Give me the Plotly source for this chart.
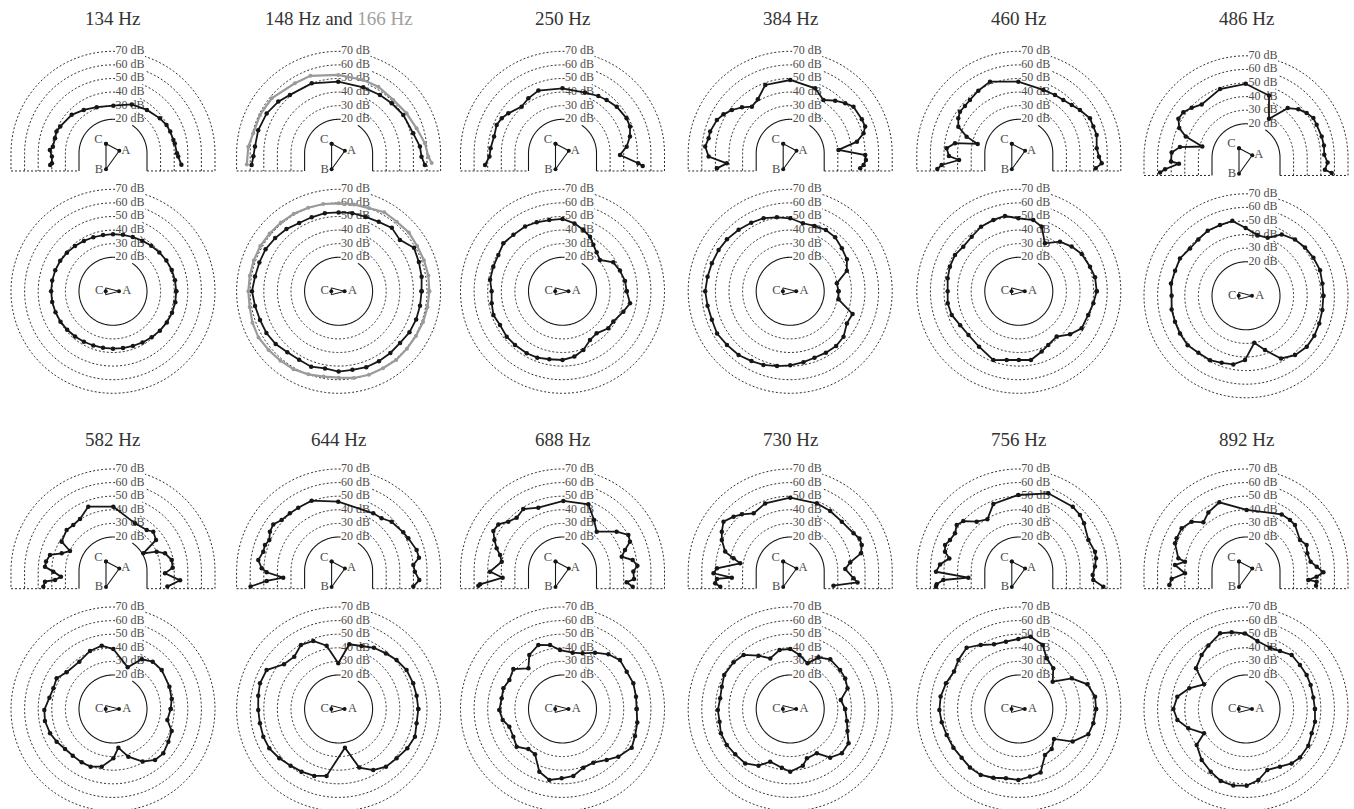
import math
import numpy as np
import plotly.graph_objects as go

# ---------------------------------------------------------------------------
# Measured sound pressure level (dB) against direction (degrees).
# "vert" = vertical half plane above the floor line, "horiz" = horizontal plane.
# ---------------------------------------------------------------------------
hz134_vert_theta = [-9.6, -2.9, 0, 9, 12.5, 20.8, 27.8, 36.7, 52, 69, 89.6, 109.5, 124, 137, 153, 159, 165.5, 173.7, 177, 183, 189.3, 190.5]
hz134_vert_db = [46, 43, 42, 41, 40.5, 40, 39.5, 38, 35.5, 33.5, 30, 31, 33.5, 36.5, 38.5, 39.5, 39, 39.5, 41.5, 40, 40.5, 42]
hz134_horiz_theta = [0, 10, 20, 30, 40, 50, 60, 70, 80, 90, 100, 110, 120, 130, 140, 150, 160, 170, 180, 190, 200, 210, 220, 230, 240, 250, 260, 270, 280, 290, 300, 310, 320, 330, 340, 350]
hz134_horiz_db = [41.5, 41.3, 41, 40.3, 39.5, 38.7, 38, 37.5, 37.2, 37, 37, 37.3, 37.8, 38.5, 39.2, 39.8, 40.2, 40.4, 40.5, 40.4, 40, 39.6, 39, 38.4, 37.8, 37.4, 37.2, 37.2, 37.4, 37.8, 38.4, 39.2, 40, 40.7, 41.2, 41.5]

hz148_vert_theta = [-7.7, -2.3, 4.7, 15, 30.7, 43.3, 54.7, 69.5, 90.3, 111, 129.8, 139.4, 151, 164, 175.4, 182, 187.6]
hz148_vert_db = [59, 56, 55, 51.8, 50.3, 48.6, 47.6, 46.8, 47.7, 50.1, 50.9, 53.4, 55.5, 56.5, 56.7, 57.7, 59.5]
hz148_horiz_theta = [0, 10, 20, 30, 40, 50, 60, 70, 80, 90, 100, 110, 120, 130, 140, 150, 160, 170, 180, 190, 200, 210, 220, 230, 240, 250, 260, 270, 280, 290, 300, 310, 320, 330, 340, 350]
hz148_horiz_db = [56, 57, 57.8, 59, 53.8, 55.9, 54, 53.2, 53.3, 53, 53.3, 52.9, 53, 54.7, 55.9, 57, 57, 57.4, 58.7, 57.4, 56.5, 56.3, 55.4, 53.6, 53.1, 54, 52.6, 54, 53.6, 54.4, 54.3, 54.2, 54, 55.2, 55.7, 55.8]

hz166_vert_theta = [-6, -2, 6.6, 17.8, 30.5, 44.3, 59.2, 71.4, 90.2, 110, 122, 140.6, 154, 166.8, 175.8, 187]
hz166_vert_db = [63.8, 61, 58.9, 55.2, 53, 51.2, 52, 51.9, 52.6, 55.6, 55.7, 58.7, 59.3, 59.5, 61.6, 63]
hz166_horiz_theta = [0, 10, 20, 30, 40, 50, 60, 70, 80, 90, 100, 110, 120, 130, 140, 150, 160, 170, 180, 190, 200, 210, 220, 230, 240, 250, 260, 270, 280, 290, 300, 310, 320, 330, 340, 350]
hz166_horiz_db = [61.7, 62, 61.8, 61.7, 62.4, 61.7, 62.2, 60.1, 59.9, 59.7, 60.2, 60.4, 60.9, 61, 61.2, 61.5, 61.4, 61.3, 61.4, 61.4, 62.4, 63, 62.2, 61.6, 61.2, 60, 58.7, 58.5, 59.7, 60.3, 60.3, 60.9, 60.6, 60.7, 61.1, 61.4]

hz250_vert_theta = [-9, -7.5, -1.7, 5.9, 13.9, 21.6, 28.6, 40.7, 50.4, 58, 69.7, 90, 111, 121.8, 131.2, 143.6, 150, 156.7, 166.3, 176, 182.6, 188.6]
hz250_vert_db = [54.7, 51.2, 37.3, 42.4, 46.1, 48.4, 48.7, 47.6, 45.9, 44.7, 42.6, 42.8, 44.4, 42.6, 40.6, 44.5, 46.6, 47.7, 46.8, 48, 48.8, 52.6]
hz250_horiz_theta = [0, 9.4, 19.8, 29.7, 39.9, 48.8, 56.4, 63.3, 71.2, 80, 90, 100.5, 110.5, 120, 131, 141, 150.5, 160.4, 171, 180, 189.6, 199, 208.3, 219.1, 228.5, 240, 249.2, 259, 270, 280.3, 289.6, 299.5, 309.1, 321, 329.2, 341.5, 350]
hz250_horiz_db = [42.2, 41.6, 39.9, 38, 30.9, 33.1, 36, 40, 42.6, 45.7, 48.2, 48.3, 49.2, 50, 50, 51, 49.2, 49, 48.9, 47.1, 47.8, 48.7, 47.2, 47.9, 47.7, 47.6, 47.2, 45.9, 45.5, 43.8, 40.8, 36.1, 34.8, 38.3, 38.5, 42.2, 45.4]

hz384_vert_theta = [-12, -9, -5, -1.3, 4, 9.9, 15.3, 19.6, 25.4, 36.4, 42.3, 49.5, 58, 69, 90, 110, 120.9, 129.4, 136.4, 143.4, 149.7, 155.6, 164.8, 169.6, 175.5, 182.3, 189, 191.6]
hz384_vert_db = [47.6, 49.6, 50.9, 50.2, 30.6, 44.8, 50.9, 53.5, 53.3, 52.8, 49.7, 45.9, 41.2, 46.2, 48.9, 48.5, 41.3, 39.4, 44, 48.4, 51.8, 54.2, 56, 56, 57.7, 55, 42.2, 50]
hz384_horiz_theta = [0, 9.7, 20, 29.5, 39.8, 50.2, 59.8, 69.6, 79.4, 90, 100.2, 110, 119.6, 130, 140.6, 150, 160.3, 170, 180, 190, 200, 210, 220.3, 231, 241, 250, 260, 270, 280.6, 290.1, 300.2, 310, 319.6, 330.5, 340, 350.6]
hz384_horiz_db = [30.5, 29.8, 39.3, 42.9, 44.4, 46.7, 47.2, 46.3, 45.9, 48.7, 50.3, 52.2, 53, 54, 55.2, 55.8, 56.2, 56.7, 57.5, 56.7, 56.3, 57.1, 56, 55.3, 53.7, 52.6, 50.8, 49.4, 48, 47, 47.2, 47.5, 46.5, 42.9, 43.8, 31]

hz460_vert_theta = [-11, -6.9, -2.4, 3.7, 13.2, 19.7, 26.2, 35.3, 42.4, 50.1, 58.2, 68.8, 90.4, 111.9, 122.9, 132.5, 138.7, 144.7, 150, 156.2, 162.3, 167.2, 171, 176, 182.2, 186.4, 188.6, 190.9]
hz460_vert_db = [52.6, 56.4, 54, 52.4, 53.8, 53.2, 53.3, 50.1, 47.7, 46, 45.5, 45, 47.7, 51.8, 49.8, 48.2, 47.7, 48, 46.4, 43.6, 35.3, 26, 42.5, 48.2, 46.4, 39.2, 52.4, 56]
hz460_horiz_theta = [0, 10.4, 19.1, 30.7, 40.2, 50.3, 61.4, 70.5, 78.5, 90.4, 100.4, 109.6, 120.3, 130.8, 141.2, 150.3, 160.3, 169.6, 180, 189.6, 199.4, 210, 221, 234.3, 249.7, 260, 270, 280, 290.8, 298.8, 309.9, 320, 329.5, 341.2, 350.9]
hz460_horiz_db = [52.3, 52, 50.4, 48.8, 45.9, 42.4, 35.2, 45.4, 48.5, 48.7, 51.3, 50.7, 50, 48, 47.4, 49, 48.8, 48.2, 47.3, 48, 47.3, 44.8, 44, 45.1, 48.9, 46.3, 45.5, 46.3, 42.4, 40, 38.4, 44.2, 48.6, 48.9, 50.5]

hz486_vert_theta = [-10.1, -8.6, -3.3, 2.2, 9, 15.7, 25, 30.5, 36.4, 42.9, 50, 59.5, 69.7, 90.3, 110.7, 129.7, 137.4, 143.9, 150, 156, 160.5, 165.5, 170.8, 175.9, 182.8, 185, 188, 189.7]
hz486_vert_db = [59, 53.7, 55.1, 52.6, 53, 52.8, 52.3, 52.5, 50.4, 47.5, 42.7, 28.3, 43.8, 49.4, 49, 46, 49.3, 52, 52.4, 48.7, 42, 28.2, 44.2, 49.8, 50.2, 44.5, 55.1, 59.1]
hz486_horiz_theta = [0, 9.2, 19.1, 29.4, 39.3, 49, 59.8, 69.5, 79.4, 90.3, 100.3, 110.2, 120.5, 130.2, 139.8, 150.5, 160.6, 170.7, 180, 190.4, 200.1, 209.7, 220.2, 230.1, 240.8, 250, 259.5, 269.1, 280, 289.3, 299.2, 309.6, 320, 329.7, 339.3, 349.4]
hz486_horiz_db = [51.9, 51.9, 52.6, 51.9, 51.1, 49.9, 47.2, 40.5, 40.4, 44.8, 51, 50.4, 50.5, 49.3, 48.9, 50.8, 50.3, 50.9, 49.7, 50.6, 50.6, 50.9, 51.2, 49.6, 49.2, 47.4, 46.3, 42.3, 30.1, 37.3, 47.8, 51.6, 53.3, 53.2, 52.6, 52.1]

hz582_vert_theta = [-16, -7.9, -2.6, 3.2, 10.6, 18.8, 23.9, 30.2, 35.8, 44.3, 50.6, 65.2, 89.7, 111, 122.4, 130.8, 138.5, 150.3, 155, 161, 165.7, 172, 176.4, 180.6, 186.2, 188.8, 188.9, 192.7]
hz582_vert_db = [36.6, 44.8, 33.3, 38.9, 38.9, 35.4, 30.1, 20.8, 34, 36.4, 34, 33.6, 42.3, 45.7, 40.3, 39.7, 40.5, 38.5, 29.9, 34.9, 42.8, 44.7, 45.1, 38.9, 33.5, 38.1, 45.6, 47.5]
hz582_horiz_theta = [0, 9.7, 21.6, 38.7, 50, 60, 70.6, 89.7, 100.1, 111.6, 125.4, 141.6, 151.4, 160.9, 169.9, 180.8, 190, 201.1, 210.1, 219.8, 229.2, 239.6, 248.8, 259, 270.4, 277.9, 287.8, 299.4, 309.5, 318.6, 329.4, 339.4, 348.6]
hz582_horiz_db = [37.4, 38.8, 39.6, 40.9, 40.4, 37.2, 27.5, 39.1, 42.3, 40.9, 37.7, 38.5, 42.2, 41.4, 42.5, 45.5, 45.8, 44.6, 42.9, 40.9, 40.3, 40.5, 40.5, 38.2, 31.3, 23.7, 31.8, 39.4, 43.6, 44.3, 42.3, 41.1, 35.8]

hz644_vert_theta = [-11.8, -6.4, -0.5, 4.6, 9.4, 15, 25.1, 30.9, 42.9, 50.8, 59, 90.3, 111, 122.5, 130.2, 138.2, 144.5, 150.2, 155.9, 160.6, 165.6, 172.2, 178, 181, 186.9, 187.9, 190]
hz644_vert_db = [51.1, 54.7, 51.1, 50.1, 54.9, 54.4, 51.6, 50.4, 48.2, 45, 44.5, 46, 50.4, 50.2, 50.5, 51.2, 54, 53.2, 50.8, 52.4, 52.2, 54.6, 51.6, 47.9, 36, 48.4, 60.7]
hz644_horiz_theta = [0, 9.7, 19, 29.8, 40.2, 49.6, 60, 70, 80.6, 90.4, 100.7, 110.4, 120.5, 130.3, 140.7, 151.6, 161.9, 170.6, 180.7, 190.3, 200.2, 209.6, 219.7, 229.7, 239.4, 250, 259.8, 279.3, 289.4, 299.6, 309.4, 319.6, 330.2, 340.1, 349.6]
hz644_horiz_db = [53.6, 53.2, 53, 52.6, 50.8, 48.7, 47, 44.3, 43.2, 28.6, 42.4, 48.4, 49.6, 45.4, 46.9, 55.2, 55.8, 54.9, 54.1, 53.8, 54, 53.6, 51.7, 49.6, 48.5, 47.4, 45, 23.8, 40.7, 46.6, 49.9, 51, 53.2, 54.7, 53.3]

hz688_vert_theta = [-12.6, -10, -6.4, -0.5, 4.1, 8.9, 13.6, 18.6, 23.5, 28.7, 36, 49, 58.3, 68.8, 89.3, 110.9, 122.3, 130.7, 137.7, 144, 150, 155.5, 161, 165.6, 171.3, 180.5, 186.4, 189.2, 189.9]
hz688_vert_db = [47.9, 42.9, 47.9, 47.1, 50.2, 47.2, 39.8, 43.5, 49.1, 50.2, 44.2, 33.3, 39.1, 47.6, 46.5, 44.8, 48.9, 46.7, 48.9, 53.3, 53.7, 50, 46.2, 42.4, 40.2, 48.3, 39.3, 56.4, 57.8]
hz688_horiz_theta = [0, 9.5, 19.9, 30.2, 40.4, 50, 60, 70.1, 79.8, 92.4, 101, 110.7, 121.6, 130, 140.9, 151.4, 160.7, 170, 181, 190.4, 198.4, 209.4, 219.4, 229.5, 238.8, 249.7, 259.5, 269.3, 279.2, 289.6, 299.9, 310.9, 319.5, 330.8, 339.6, 349.7]
hz688_horiz_db = [49.5, 49.8, 50.4, 49.6, 50.5, 47.5, 42.8, 38.5, 37.1, 38.4, 42.9, 45.3, 41.6, 34, 41.6, 39.5, 41.1, 40.4, 41.5, 39.7, 36.2, 36.5, 38.6, 33.7, 34, 44.1, 48.1, 46, 44.9, 40.8, 40.5, 44.6, 49, 53.3, 51.9, 50.9]

hz730_vert_theta = [-18.7, -9.6, -6.6, 2.1, 8.2, 14, 20, 25.2, 30.7, 43.7, 56.3, 68.5, 90, 110.3, 122.4, 130.5, 136.2, 143.5, 150.1, 155.6, 163.4, 167.4, 171.3, 177.9, 181.7, 186.5, 186.2, 189.3, 192.6]
hz730_vert_db = [28.6, 45.2, 41.9, 35.5, 39.6, 48.6, 51, 51.3, 49.2, 47.5, 48, 48.5, 48.9, 48, 45.2, 49.8, 52.7, 56, 53, 50.2, 44.9, 37.7, 32.2, 48.9, 51.4, 38.2, 49.2, 50.9, 47.7]
hz730_horiz_theta = [0, 10.1, 19.8, 29.1, 38, 51.1, 61.3, 69.2, 80.2, 90, 100.2, 111.5, 120.7, 130.8, 140.5, 152.7, 161.9, 171.3, 180.8, 190.2, 199.3, 209.6, 219.5, 230.4, 240.8, 249.2, 261.9, 270, 282.6, 288.7, 301, 309.4, 319.4, 329.5, 339, 348]
hz730_horiz_db = [35.4, 32.8, 39.8, 41.3, 41.6, 41.9, 38.3, 30.9, 35.3, 39.1, 39.1, 35, 40.6, 47.5, 49, 49.6, 47.9, 47.1, 48.2, 47.8, 49, 48.6, 47.4, 46.9, 42.7, 36.4, 38.6, 41.1, 37.7, 33.3, 33, 41.3, 45, 44.8, 40.1, 37.6]

hz756_vert_theta = [-10.5, -6.9, -3.1, 3.3, 9.3, 14.2, 24, 36.2, 42.5, 50, 69.2, 90.4, 110.8, 121.3, 130.5, 138, 143.5, 149.4, 155.7, 160.6, 165.3, 169.7, 175.2, 180.5, 187.5, 186.8, 189.2, 190.7]
hz756_vert_db = [58.2, 50.2, 49.4, 51.1, 52.5, 52.8, 51, 54.4, 56, 56.7, 56.1, 50.9, 47.7, 39.5, 42.7, 49.9, 51.8, 49.5, 50.5, 52.5, 51.1, 46.9, 53.1, 55.9, 32.4, 50.9, 56.2, 57]
hz756_horiz_theta = [0, 9.2, 19.8, 30.1, 38.9, 49.7, 61.2, 69.5, 80.7, 90.4, 100.8, 111, 120.8, 130.4, 140.9, 150, 160.6, 171, 180.7, 189.8, 199.8, 210.6, 220.4, 230.2, 240, 249.7, 259.5, 269.6, 279.4, 289, 299.7, 309.4, 319.6, 328.8, 340, 349.1]
hz756_horiz_db = [51.8, 51.8, 48.6, 40, 27, 34.2, 37.5, 45.2, 48.9, 46.5, 45.4, 45.9, 49.8, 54.2, 52.2, 50, 51.8, 53.2, 53.4, 52.5, 51.4, 50.9, 50.2, 51.1, 51, 48.9, 46.8, 47.2, 45.4, 44.3, 33.9, 33.1, 29, 41.3, 49.4, 50.8]

hz892_vert_theta = [-11.8, -8.6, -8.2, -4.6, -1, 3.5, 8.2, 16.1, 23.2, 29.9, 43.2, 49.2, 57.8, 89.4, 111.2, 122.7, 131.2, 137.8, 146.4, 154.8, 158.7, 169.4, 171.3, 175.2, 182.2, 186.1, 190.3]
hz892_vert_db = [47.6, 47.5, 41.3, 47.1, 51.9, 47.1, 43, 41.9, 43.5, 40.8, 44.4, 44.5, 44.2, 39.9, 49.2, 46.2, 42.6, 49, 51.8, 51.4, 51, 45.6, 40.4, 47.4, 39.9, 50, 52.3]
hz892_horiz_theta = [0, 9.6, 20.4, 29.3, 39.2, 49.8, 59.6, 68.6, 80.5, 90.8, 100.6, 108.9, 120.7, 129.4, 140.9, 149.6, 160, 169.8, 180, 189.1, 198.5, 210.1, 216.1, 229, 240.6, 250.6, 260.6, 270.5, 279.9, 289.3, 300.5, 310, 318, 329.5, 339.7, 349.6]
hz892_horiz_db = [45.7, 45.2, 45.7, 46.1, 46.2, 47, 44.4, 43.4, 45.7, 50.6, 52.4, 53.8, 49.2, 46.4, 42.4, 30.8, 39.4, 46.3, 48.4, 46.1, 39.7, 30.7, 39.9, 44.7, 47.9, 51.1, 52.1, 51.4, 48, 42.5, 44.2, 47.2, 48.4, 48.2, 46.5, 46.6]

ring_levels_db = [20, 30, 40, 50, 60, 70]

# ---------------------------------------------------------------------------
# Page geometry (pixels) and styling
# ---------------------------------------------------------------------------
W, H = 1354, 820
R_MIN, R_MAX = -5.0, 73.0          # radial axis range shared by every subplot
PX = 1.36                          # pixels per radial unit
POLAR_R = (R_MAX - R_MIN) * PX     # radius of each polar subplot in pixels
BASE_DROP = 13.0                   # floor line sits this far below the pole (radial units)
COL_X = [113.0, 338.6, 562.5, 790.2, 1018.8, 1246.0]
GROUPS = [dict(title_y=18.0, vert_y=153.3, horiz_y=291.3),
          dict(title_y=439.0, vert_y=571.0, horiz_y=709.0)]
INK = "#161616"
GREY = "#9a9a9a"
RING_INK = "#2a2a2a"
LABEL_INK = "#4d4d4d"
SERIF = "Liberation Serif"

BLACK, LIGHT = "black", "grey"
PANELS = [
    ("134 Hz", [(hz134_vert_theta, hz134_vert_db, BLACK)], [(hz134_horiz_theta, hz134_horiz_db, BLACK)]),
    ("148 Hz and <span style='color:#a0a0a0'>166 Hz</span>",
     [(hz166_vert_theta, hz166_vert_db, LIGHT), (hz148_vert_theta, hz148_vert_db, BLACK)],
     [(hz166_horiz_theta, hz166_horiz_db, LIGHT), (hz148_horiz_theta, hz148_horiz_db, BLACK)]),
    ("250 Hz", [(hz250_vert_theta, hz250_vert_db, BLACK)], [(hz250_horiz_theta, hz250_horiz_db, BLACK)]),
    ("384 Hz", [(hz384_vert_theta, hz384_vert_db, BLACK)], [(hz384_horiz_theta, hz384_horiz_db, BLACK)]),
    ("460 Hz", [(hz460_vert_theta, hz460_vert_db, BLACK)], [(hz460_horiz_theta, hz460_horiz_db, BLACK)]),
    ("486 Hz", [(hz486_vert_theta, hz486_vert_db, BLACK)], [(hz486_horiz_theta, hz486_horiz_db, BLACK)]),
    ("582 Hz", [(hz582_vert_theta, hz582_vert_db, BLACK)], [(hz582_horiz_theta, hz582_horiz_db, BLACK)]),
    ("644 Hz", [(hz644_vert_theta, hz644_vert_db, BLACK)], [(hz644_horiz_theta, hz644_horiz_db, BLACK)]),
    ("688 Hz", [(hz688_vert_theta, hz688_vert_db, BLACK)], [(hz688_horiz_theta, hz688_horiz_db, BLACK)]),
    ("730 Hz", [(hz730_vert_theta, hz730_vert_db, BLACK)], [(hz730_horiz_theta, hz730_horiz_db, BLACK)]),
    ("756 Hz", [(hz756_vert_theta, hz756_vert_db, BLACK)], [(hz756_horiz_theta, hz756_horiz_db, BLACK)]),
    ("892 Hz", [(hz892_vert_theta, hz892_vert_db, BLACK)], [(hz892_horiz_theta, hz892_horiz_db, BLACK)]),
]


def to_polar(x_px, y_px):
    """Pixel offset from the pole -> (r, theta) on the shared radial scale."""
    rho = math.hypot(x_px, y_px) / PX
    return rho + R_MIN, math.degrees(math.atan2(y_px, x_px))


def label_gap(db):
    """Angular span of a ring hidden behind its '.. dB' label."""
    rho = (db - R_MIN) * PX
    x0, x1, half = 2.0, 32.0, 6.0
    lo = max(math.degrees(math.acos(min(1.0, x1 / rho))),
             math.degrees(math.asin(max(0.0, (rho - half) / rho))))
    hi = math.degrees(math.acos(x0 / rho))
    return lo, hi


def ring_style(db):
    if db == 20:
        return dict(color=INK, width=1.1)
    return dict(color=RING_INK, width=1.0, dash="2px,2px")


fig = go.Figure()
layout_polars = {}
annotations = []
subplot_id = 0


def new_subplot(cx, cy):
    global subplot_id
    subplot_id += 1
    name = "polar" if subplot_id == 1 else f"polar{subplot_id}"
    layout_polars[name] = dict(
        domain=dict(x=[(cx - POLAR_R) / W, (cx + POLAR_R) / W],
                    y=[1 - (cy + POLAR_R) / H, 1 - (cy - POLAR_R) / H]),
        bgcolor="rgba(0,0,0,0)",
        radialaxis=dict(range=[R_MIN, R_MAX], visible=False),
        angularaxis=dict(visible=False),
    )
    return name


def add_line(sub, r, th, line, mode="lines"):
    fig.add_trace(go.Scatterpolar(r=r, theta=th, mode=mode, line=line,
                                  subplot=sub, hoverinfo="skip", showlegend=False))


def add_text(sub, pts_px, texts, size=12, color=LABEL_INK):
    rr, tt = zip(*[to_polar(x, y) for x, y in pts_px])
    fig.add_trace(go.Scatterpolar(r=list(rr), theta=list(tt), mode="text", text=texts,
                                  textfont=dict(family=SERIF, size=size, color=color),
                                  cliponaxis=False, subplot=sub,
                                  hoverinfo="skip", showlegend=False))


def add_ring_labels(sub):
    pts = [(17.0, (db - R_MIN) * PX) for db in ring_levels_db]
    add_text(sub, pts, [f"{db} dB" for db in ring_levels_db])


def draw_vertical_frame(sub):
    drop_px = BASE_DROP * PX
    for db in ring_levels_db:
        rho_px = (db - R_MIN) * PX
        lo, hi = label_gap(db)
        r0, t0 = to_polar(rho_px, -drop_px)
        r1, t1 = to_polar(-rho_px, -drop_px)
        a1 = np.linspace(0, lo, 60)
        a2 = np.linspace(hi, 180, 90)
        r = [r0] + [db] * len(a1) + [None] + [db] * len(a2) + [r1]
        th = [t0] + list(a1) + [None] + list(a2) + [t1]
        add_line(sub, r, th, ring_style(db))
    # floor line either side of the head outline
    inner = (ring_levels_db[0] - R_MIN) * PX
    outer = (ring_levels_db[-1] - R_MIN) * PX
    pts = [(-outer, -drop_px), (-inner, -drop_px), None, (inner, -drop_px), (outer, -drop_px)]
    r, th = [], []
    for p in pts:
        if p is None:
            r.append(None); th.append(None)
        else:
            a, b = to_polar(*p)
            r.append(a); th.append(b)
    add_line(sub, r, th, dict(color=RING_INK, width=1.0, dash="2px,2px"))
    add_ring_labels(sub)
    # source / receiver triangle seen from the side
    icon = [(-7.0, 9.5), (6.3, 2.5), (-7.0, -16.0), (-7.0, 9.5)]
    rr, tt = zip(*[to_polar(x, y) for x, y in icon])
    fig.add_trace(go.Scatterpolar(r=list(rr), theta=list(tt), mode="lines+markers",
                                  line=dict(color=INK, width=1.1),
                                  marker=dict(color=INK, size=4),
                                  subplot=sub, hoverinfo="skip", showlegend=False))
    add_text(sub, [(-14.5, 13.5), (12.8, 2.8), (-14.0, -16.3)], ["C", "A", "B"], size=12.5)


def draw_horizontal_frame(sub):
    for db in ring_levels_db:
        lo, hi = label_gap(db)
        th = np.linspace(hi, lo + 360, 360)
        add_line(sub, [db] * len(th), list(th), ring_style(db))
    add_ring_labels(sub)
    # the same triangle seen from above
    outline = [(-7.3, 3.4), (6.0, 0.0), (-7.3, -3.4), (-7.3, 3.4)]
    rr, tt = zip(*[to_polar(x, y) for x, y in outline])
    add_line(sub, list(rr), list(tt), dict(color=INK, width=1.0))
    dots = [(-7.3, 0.0), (6.0, 0.0)]
    rr, tt = zip(*[to_polar(x, y) for x, y in dots])
    fig.add_trace(go.Scatterpolar(r=list(rr), theta=list(tt), mode="markers",
                                  marker=dict(color=INK, size=4),
                                  subplot=sub, hoverinfo="skip", showlegend=False))
    add_text(sub, [(-13.8, 0.0), (13.8, 0.0)], ["C", "A"], size=12.5)


def add_series(sub, theta, db, shade, closed):
    th, r = list(theta), list(db)
    if closed:
        th.append(theta[0]); r.append(db[0])
    color = INK if shade == BLACK else GREY
    width = 1.8 if shade == BLACK else 2.2
    fig.add_trace(go.Scatterpolar(r=r, theta=th, mode="lines+markers",
                                  line=dict(color=color, width=width),
                                  marker=dict(color=color, size=4.5 if shade == BLACK else 4),
                                  subplot=sub, hoverinfo="skip", showlegend=False))


for idx, (title, vert_series, horiz_series) in enumerate(PANELS):
    g = GROUPS[idx // 6]
    col = idx % 6
    cx = COL_X[col]
    shift = 4.5 if idx == 5 else 0.0
    sub_v = new_subplot(cx, g["vert_y"] + shift)
    draw_vertical_frame(sub_v)
    for th, db, shade in vert_series:
        add_series(sub_v, th, db, shade, closed=False)
    sub_h = new_subplot(cx, g["horiz_y"] + shift)
    draw_horizontal_frame(sub_h)
    for th, db, shade in horiz_series:
        add_series(sub_h, th, db, shade, closed=True)
    annotations.append(dict(text=title, x=cx / W, y=1 - g["title_y"] / H,
                            xref="paper", yref="paper", xanchor="center", yanchor="middle",
                            showarrow=False, font=dict(family=SERIF, size=19, color="#333333")))

fig.update_layout(
    width=W, height=H,
    margin=dict(l=0, r=0, t=0, b=0, pad=0),
    paper_bgcolor="white", plot_bgcolor="white",
    showlegend=False, hovermode=False,
    annotations=annotations,
    **layout_polars,
)

fig.write_html("out.html",
               post_script="document.body.style.margin='0';document.body.style.overflow='hidden';")
